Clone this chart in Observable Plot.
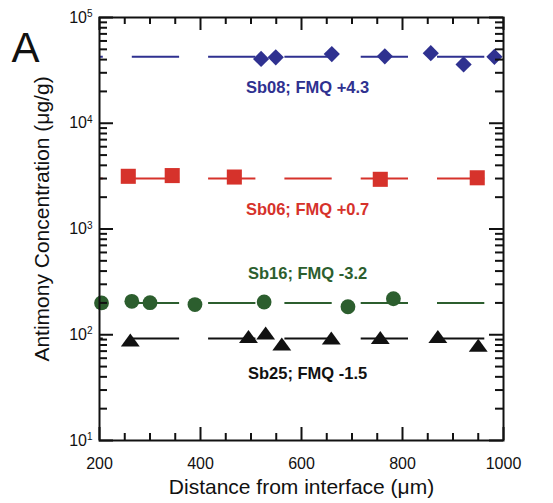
<!DOCTYPE html>
<html><head><meta charset="utf-8">
<script src="https://cdn.jsdelivr.net/npm/d3@7"></script>
<script src="https://cdn.jsdelivr.net/npm/@observablehq/plot@0.6"></script>
<style>
html,body{margin:0;padding:0;background:#fff;}
#chart svg{display:block;}
</style>
</head><body><div id="chart"></div>
<script>
// ---- data ----
const sb08x = [520, 549, 660, 765, 856, 921, 982];
const sb08y = [40600, 42000, 45100, 42900, 46000, 36000, 42500];
const sb06x = [257, 344, 467, 756, 948];
const sb06y = [3150, 3200, 3100, 2950, 3050];
const sb16x = [204, 264, 300, 389, 526, 692, 782];
const sb16y = [200, 207, 201, 193, 204, 184, 219];
const sb25x = [261, 495, 529, 561, 659, 756, 870, 950];
const sb25y = [85, 92, 99, 78, 89, 90, 92, 76];
const seriesNames = ["Sb08; FMQ +4.3", "Sb06; FMQ +0.7", "Sb16; FMQ -3.2", "Sb25; FMQ -1.5"];
const fitLevels = [42500, 3000, 200, 92];
const fitExtent = [200, 1000];
const labelX = [612, 612, 612, 612];
const labelY = [21800, 1520, 380, 43];
const xMajorTicks = [200, 400, 600, 800, 1000];
const xMinorTicks = [250, 300, 350, 450, 500, 550, 650, 700, 750, 850, 900, 950];
const yMajorTicks = [10, 100, 1000, 10000, 100000];
const yMinorTicks = [20,30,40,50,60,70,80,90, 200,300,400,500,600,700,800,900,
                     2000,3000,4000,5000,6000,7000,8000,9000, 20000,30000,40000,50000,60000,70000,80000,90000];
const xLabel = "Distance from interface (\u03bcm)";
const yLabel = "Antimony Concentration (\u03bcg/g)";
const panelLabel = "A";

// ---- styles ----
const colors = ["#2f3190", "#d6322b", "#2c5e2e", "#111111"];
const W = 553, H = 503, mL = 99, mR = 50, mT = 17, mB = 63;
const PW = W - mL - mR, PH = H - mT - mB;
const font = "Liberation Sans, Arial, Helvetica, sans-serif";

const flatTriangle = {
  draw(ctx, size) {
    const r = Math.sqrt(size / Math.PI);
    const w = 1.35 * r, h = 1.85 * r;
    ctx.moveTo(0, -2 * h / 3);
    ctx.lineTo(w, h / 3);
    ctx.lineTo(-w, h / 3);
    ctx.closePath();
  }
};

const pts = (xs, ys) => xs.map((x, i) => ({x, y: ys[i]}));
const fits = fitLevels.map((v, i) => ({y: v, x1: fitExtent[0], x2: fitExtent[1], c: colors[i]}));
const labels = seriesNames.map((t, i) => ({text: t, x: labelX[i], y: labelY[i], c: colors[i]}));

const plot = Plot.plot({
  width: W, height: H,
  marginLeft: mL, marginRight: mR, marginTop: mT, marginBottom: mB,
  style: {fontFamily: font, background: "#fff", color: "#111"},
  x: {domain: [200, 1000], axis: null},
  y: {type: "log", domain: [10, 100000], axis: null},
  marks: [
    // dashed fit lines
    ...fits.map(f => Plot.ruleY([f], {y: "y", x1: "x1", x2: "x2", stroke: f.c, strokeWidth: 2,
      strokeDasharray: "47.3,29", strokeDashoffset: 43.5})),
    // data points
    Plot.dot(pts(sb08x, sb08y), {x: "x", y: "y", symbol: "diamond2", r: 7.3, fill: colors[0], stroke: "none"}),
    Plot.dot(pts(sb06x, sb06y), {x: "x", y: "y", symbol: "square", r: 8.5, fill: colors[1], stroke: "none"}),
    Plot.dot(pts(sb16x, sb16y), {x: "x", y: "y", symbol: "circle", r: 7.4, fill: colors[2], stroke: "none"}),
    Plot.dot(pts(sb25x, sb25y), {x: "x", y: "y", symbol: flatTriangle, r: 7, fill: colors[3], stroke: "none"}),
    // series labels
    Plot.text(labels, {x: "x", y: "y", text: "text", fill: "c", fontWeight: "bold", fontSize: 16.5}),
    // ticks (inward), x bottom & top
    Plot.tickX(xMajorTicks, {x: d => d, insetTop: PH - 13, stroke: "#111", strokeWidth: 2}),
    Plot.tickX(xMinorTicks, {x: d => d, insetTop: PH - 7, stroke: "#111", strokeWidth: 2}),
    Plot.tickX(xMajorTicks, {x: d => d, insetBottom: PH - 13, stroke: "#111", strokeWidth: 2}),
    Plot.tickX(xMinorTicks, {x: d => d, insetBottom: PH - 7, stroke: "#111", strokeWidth: 2}),
    // ticks (inward), y left & right
    Plot.tickY(yMajorTicks, {y: d => d, insetRight: PW - 14, stroke: "#111", strokeWidth: 2}),
    Plot.tickY(yMinorTicks, {y: d => d, insetRight: PW - 8, stroke: "#111", strokeWidth: 2}),
    Plot.tickY(yMajorTicks, {y: d => d, insetLeft: PW - 14, stroke: "#111", strokeWidth: 2}),
    Plot.tickY(yMinorTicks, {y: d => d, insetLeft: PW - 8, stroke: "#111", strokeWidth: 2}),
    Plot.frame({stroke: "#111", strokeWidth: 2}),
    // axes labels
    Plot.axisX(xMajorTicks, {tickSize: 0, tickPadding: 17, fontSize: 16, tickFormat: d => String(d), label: null}),
    Plot.axisY(yMajorTicks, {tickSize: 0, tickPadding: 7, fontSize: 16, tickFormat: d => "10^" + Math.round(Math.log10(d)), label: null}),
    Plot.text([xLabel], {frameAnchor: "bottom", dy: 47, lineAnchor: "middle", textAnchor: "middle", text: d => d, fontSize: 21, fill: "#111"}),
    Plot.text([yLabel], {frameAnchor: "left", dx: -57, dy: -10, rotate: -90, lineAnchor: "middle", textAnchor: "middle", text: d => d, fontSize: 21, fill: "#111"}),
    Plot.text([panelLabel], {frameAnchor: "top-left", dx: -88, dy: 15, lineAnchor: "top", textAnchor: "start", text: d => d, fontSize: 42, fill: "#111"})
  ]
});

// superscript exponents on the log-axis labels
plot.querySelectorAll('g[aria-label="y-axis tick label"] text').forEach(t => {
  const s = t.textContent;
  const m = s.match(/^10\^(\d+)$/);
  if (m) {
    t.textContent = "10";
    const ts = document.createElementNS("http://www.w3.org/2000/svg", "tspan");
    ts.setAttribute("dy", "-0.55em");
    ts.setAttribute("font-size", "10");
    ts.textContent = m[1];
    t.appendChild(ts);
  }
});
document.getElementById("chart").appendChild(plot);
</script>
</body></html>
